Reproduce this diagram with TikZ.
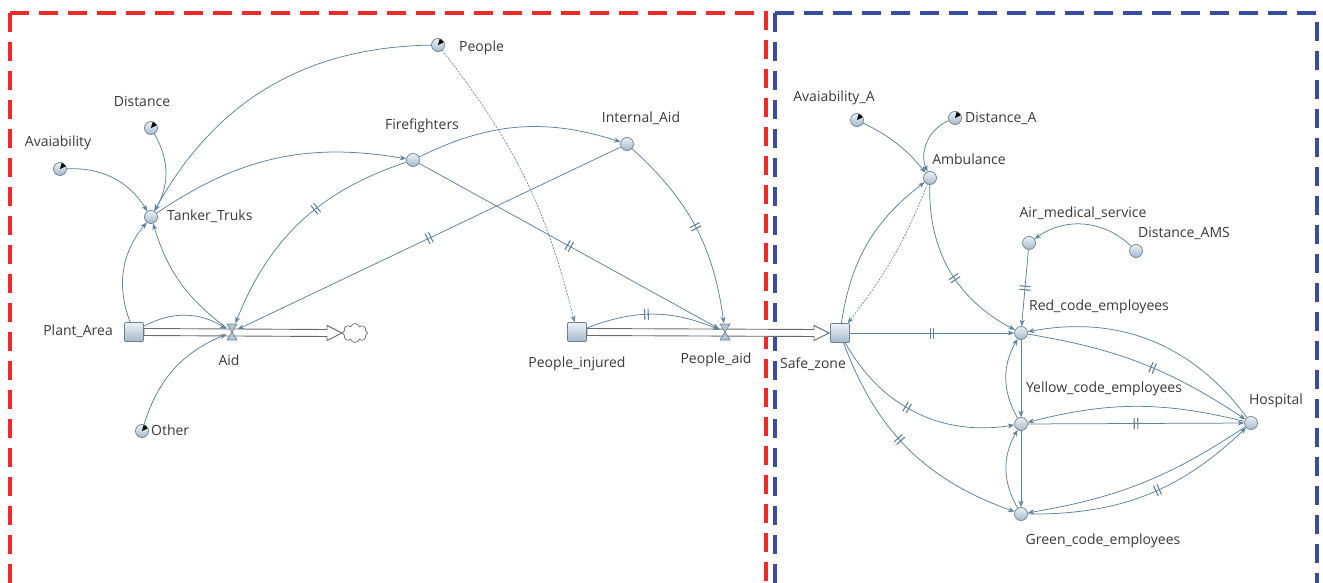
\documentclass[tikz,border=0pt]{standalone}
\usepackage{fontspec}
\setmainfont{Open Sans}
\usetikzlibrary{arrows.meta,shapes.symbols,decorations.markings,calc}
\definecolor{lnk}{HTML}{5E819C}
\definecolor{txt}{HTML}{3A3A3A}
\definecolor{rimc}{HTML}{6E8191}
\definecolor{auxtop}{HTML}{EDF2F6}
\definecolor{auxbot}{HTML}{A3B8C9}
\definecolor{rdash}{HTML}{EE2B2B}
\definecolor{bdash}{HTML}{3A4CA0}
\definecolor{pipec}{HTML}{6A6A6A}
\tikzset{
  aux/.style={circle, draw=rimc, line width=0.7pt, minimum size=13pt, inner sep=0pt, top color=auxtop, bottom color=auxbot},
  ghost/.style={aux, path picture={\fill[black] (path picture bounding box.center) -- ++(25:8pt) arc[start angle=25,end angle=75,radius=8pt] -- cycle;}},
  stock/.style={rectangle, draw=rimc, line width=0.7pt, minimum size=19pt, inner sep=0pt, rounded corners=1pt, top color=auxtop, bottom color=auxbot},
  valve/.style={rectangle, minimum width=11pt, minimum height=17pt, inner sep=0pt},
  vfill/.style={draw=rimc, fill=auxbot!80!white, line width=0.7pt, line join=round},
  lbl/.style={text=txt, font=\fontsize{14}{16}\selectfont, inner sep=1pt},
  conn/.style={draw=lnk, line width=0.75pt, -{Stealth[length=6.5pt,width=5pt]}},
  dotconn/.style={conn, line width=0.6pt, dash pattern=on 2pt off 1.2pt},
  dly/.style={postaction={decorate, decoration={markings, mark=at position #1 with {\draw[lnk, line width=1.1pt,-] (-1.8pt,-5.5pt) -- (-1.8pt,5.5pt) (1.8pt,-5.5pt) -- (1.8pt,5.5pt);}}}},
  pipe/.style={draw=pipec, fill=white, line width=0.9pt, line join=miter},
  frame/.style={line width=4.5pt, dash pattern=on 19pt off 10pt}
}
\begin{document}
\begin{tikzpicture}[x=1pt,y=-1pt]
\useasboundingbox (0,0) rectangle (1323,583);
\clip (0,0) rectangle (1323,583);
\fill[white] (0,0) rectangle (1323,583);
% frames
\draw[frame, rdash] (10,13) -- (10,600);
\draw[frame, rdash] (10,13) -- (766,13) -- (766,600);
\draw[frame, bdash] (775,13) -- (775,600);
\draw[frame, bdash] (775,13) -- (1317,13) -- (1317,600);
% stocks
\node[stock] (PA) at (134,332) {};
\node[stock] (PI) at (577,332) {};
\node[stock] (SZ) at (840,333) {};
\node[cloud, cloud puffs=8, draw=pipec, line width=0.7pt, minimum width=25pt, minimum height=19pt, aspect=1.3, inner sep=0pt] (cl) at (355,333) {};
\coordinate (tipA) at (342,333);
\coordinate (tipB) at (829,333);
% pipes
\filldraw[pipe] ($(PA.east)+(0pt,3.5pt)$) -- ($(tipA)+(-15pt,3.5pt)$) -- ($(tipA)+(-15pt,7.5pt)$) -- (tipA) -- ($(tipA)+(-15pt,-7.5pt)$) -- ($(tipA)+(-15pt,-3.5pt)$) -- ($(PA.east)+(0pt,-3.5pt)$) -- cycle;
\filldraw[pipe] ($(PI.east)+(0pt,3.5pt)$) -- ($(tipB)+(-15pt,3.5pt)$) -- ($(tipB)+(-15pt,7.5pt)$) -- (tipB) -- ($(tipB)+(-15pt,-7.5pt)$) -- ($(tipB)+(-15pt,-3.5pt)$) -- ($(PI.east)+(0pt,-3.5pt)$) -- cycle;
% valves
\node[valve] (Aid) at (232,332) {};
\node[valve] (PAid) at (725,332) {};
\filldraw[vfill] (Aid.center) -- ++(-5pt,8pt) -- ++(10pt,0pt) -- cycle;
\filldraw[vfill] (Aid.center) -- ++(-5pt,-8pt) -- ++(10pt,0pt) -- cycle;
\filldraw[vfill] (PAid.center) -- ++(-5pt,8pt) -- ++(10pt,0pt) -- cycle;
\filldraw[vfill] (PAid.center) -- ++(-5pt,-8pt) -- ++(10pt,0pt) -- cycle;
% variables
\node[ghost] (Ava) at (60,169) {};
\node[ghost] (Dist) at (151,128) {};
\node[aux] (TT) at (151,217) {};
\node[ghost] (Ppl) at (438,45) {};
\node[aux] (FF) at (413,160) {};
\node[aux] (IA) at (627,144) {};
\node[ghost] (Oth) at (142,431) {};
\node[ghost] (AvA) at (857,120) {};
\node[ghost] (DA) at (955,118) {};
\node[aux] (Amb) at (930,178) {};
\node[aux] (AMS) at (1029,243) {};
\node[aux] (DAMS) at (1136,251) {};
\node[aux] (Red) at (1021,333) {};
\node[aux] (Yel) at (1021,424) {};
\node[aux] (Grn) at (1021,514) {};
\node[aux] (Hosp) at (1251,423) {};
% labels
\node[lbl] (lAva) at (58,143) {Avaiability};
\node[lbl] (lDist) at (142,101) {Distance};
\node[lbl, anchor=west] (lTT) at (166,216) {Tanker\_Truks};
\node[lbl, anchor=west] (lPpl) at (458,48) {People};
\node[lbl] (lFF) at (422,126) {Firefighters};
\node[lbl] (lIA) at (641,118) {Internal\_Aid};
\node[lbl, anchor=east] (lPA) at (114,331) {Plant\_Area};
\node[lbl] (lAid) at (229,360) {Aid};
\node[lbl, anchor=west] (lOth) at (150,430) {Other};
\node[lbl] (lPI) at (577,364) {People\_injured};
\node[lbl] (lPAid) at (716,360) {People\_aid};
\node[lbl] (lSZ) at (813,364) {Safe\_zone};
\node[lbl] (lAvA) at (834,98) {Avaiability\_A};
\node[lbl, anchor=west] (lDA) at (964,118) {Distance\_A};
\node[lbl] (lAmb) at (969,159) {Ambulance};
\node[lbl] (lAMS) at (1083,213) {Air\_medical\_service};
\node[lbl] (lDAMS) at (1184,233) {Distance\_AMS};
\node[lbl] (lRed) at (1099,307) {Red\_code\_employees};
\node[lbl] (lYel) at (1104,389) {Yellow\_code\_employees};
\node[lbl] (lGrn) at (1103,541) {Green\_code\_employees};
\node[lbl] (lHosp) at (1276,401) {Hospital};
% connectors, left part
\draw[conn] (Ava) to[bend left=30] (TT);
\draw[conn] (Dist) to[bend left=30] (TT);
\draw[conn] (Ppl) to[bend right=30] (TT);
\draw[conn] (TT) to[bend left=22] (FF);
\draw[conn] (FF) to[bend left=22] (IA);
\draw[conn, dly=0.42] (FF) to[bend right=25] (Aid);
\draw[conn, dly=0.5] (IA) -- (Aid);
\draw[conn, dly=0.5] (FF) -- (PAid);
\draw[conn, dly=0.5] (IA) to[bend left=20] (PAid);
\draw[dotconn] (Ppl) to[bend left=12] (PI);
\draw[conn] (PA) to[bend left=30] (TT);
\draw[conn] (Aid) to[bend left=18] (TT);
\draw[conn] (PA) to[bend left=30] (Aid);
\draw[conn] (Oth) to[bend left=25] (Aid);
\draw[conn, dly=0.45] (PI) to[bend left=22] (PAid);
% connectors, right part
\draw[conn] (AvA) to[bend left=12] (Amb);
\draw[conn] (DA) to[bend right=45] (Amb);
\draw[conn] (SZ) to[bend left=22] (Amb);
\draw[dotconn] (Amb) to[bend left=8] (SZ);
\draw[conn, dly=0.55] (Amb) to[bend right=32] (Red);
\draw[conn] (DAMS) to[bend right=40] (AMS);
\draw[conn, dly=0.5] (AMS) -- (Red);
\draw[conn, dly=0.5] (SZ) -- (Red);
\draw[conn, dly=0.45] (SZ) to[bend right=35] (Yel);
\draw[conn, dly=0.45] (SZ) to[bend right=25] (Grn);
\draw[conn] (Red) -- (Yel);
\draw[conn] (Yel) -- (Grn);
\draw[conn] (Yel) to[bend left=30] (Red);
\draw[conn] (Grn) to[bend left=30] (Yel);
\draw[conn, dly=0.55] (Red) to[bend left=12] (Hosp);
\draw[conn] (Hosp) to[bend right=32] (Red);
\draw[conn, dly=0.5] (Yel) -- (Hosp);
\draw[conn] (Hosp) to[bend right=14] (Yel);
\draw[conn, dly=0.55] (Grn) to[bend right=22] (Hosp);
\draw[conn] (Hosp) to[bend left=12] (Grn);
\end{tikzpicture}
\end{document}
